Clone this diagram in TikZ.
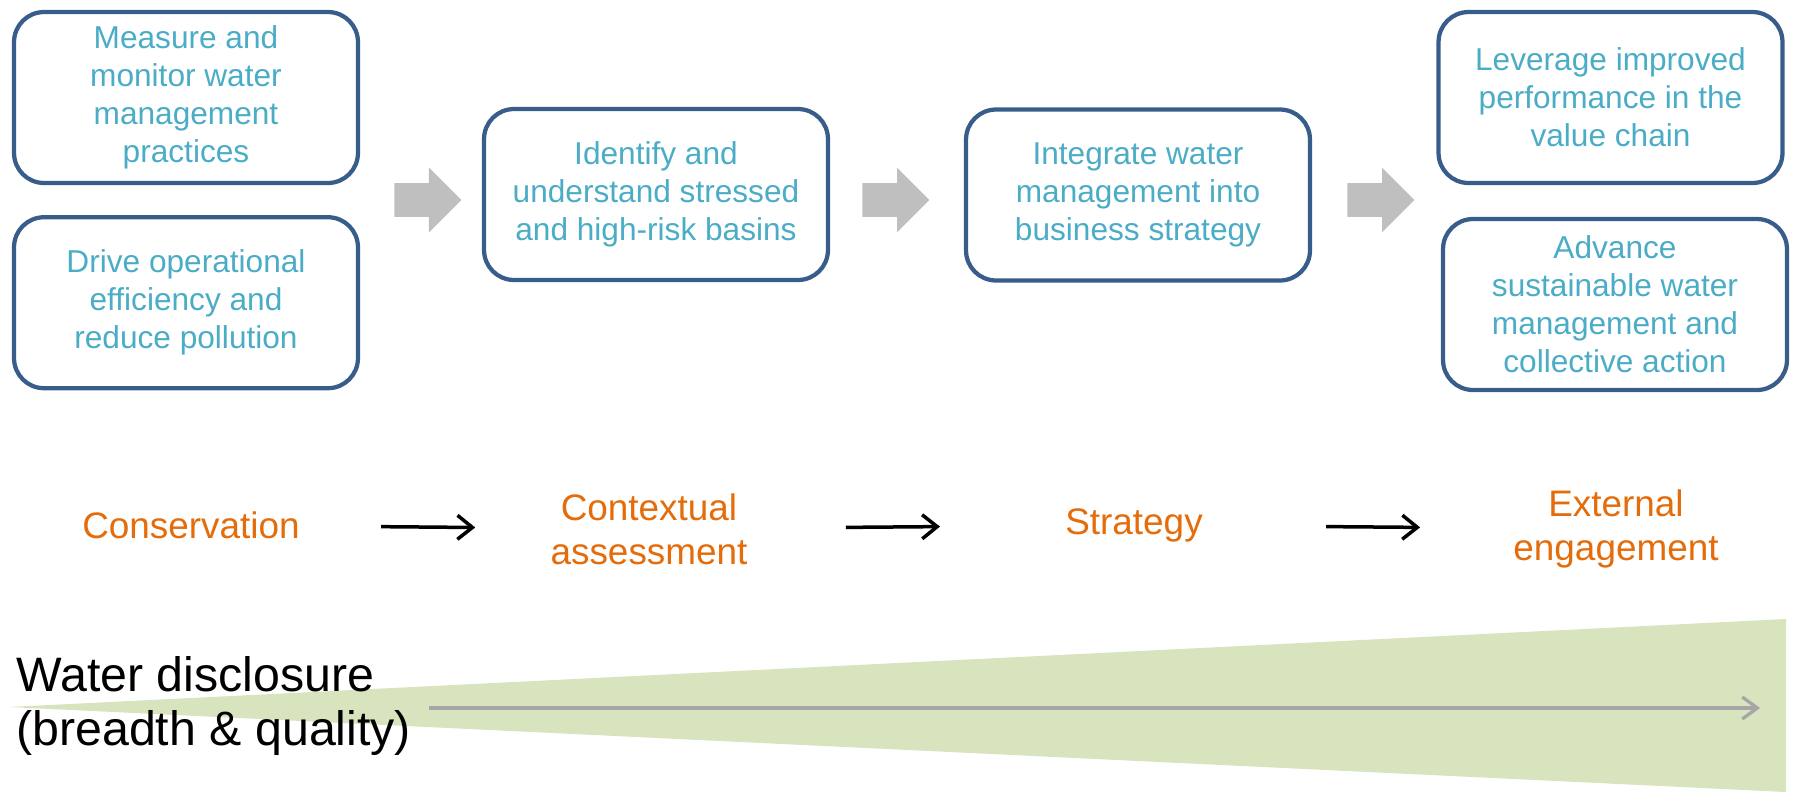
\documentclass[tikz,border=0pt]{standalone}
\usepackage{fontspec}
\setmainfont{Liberation Sans}
\usetikzlibrary{arrows.meta, positioning, shapes.arrows}

\definecolor{boxline}{HTML}{385D8A}
\definecolor{boxtext}{HTML}{4BACC6}
\definecolor{stagetext}{HTML}{E46C0A}
\definecolor{blockgray}{HTML}{BFBFBF}
\definecolor{wedge}{HTML}{D7E4BD}
\definecolor{discline}{HTML}{A6A6A6}

\begin{document}
\begin{tikzpicture}[
	x=0.02cm, y=-0.02cm,
	box/.style={draw=boxline, line width=0.085cm, rounded corners=0.6cm,
		minimum width=6.88cm, minimum height=3.42cm, inner sep=0pt,
		align=center, text=boxtext, font=\fontsize{18}{21.6}\selectfont},
	stage/.style={text=stagetext, align=center, inner sep=0pt,
		font=\fontsize{21}{25}\selectfont},
	blockarrow/.style={single arrow, fill=blockgray, draw=none, anchor=tail,
		inner xsep=0pt, inner ysep=0.33cm, minimum height=1.34cm,
		single arrow head extend=0.31cm},
	>={Straight Barb[length=0.3cm,width=0.48cm]}
]
\useasboundingbox (0,0) rectangle (1795,792);

% wedge behind the disclosure arrow
\fill[wedge] (9,707) -- (1786,619) -- (1786,792) -- cycle;

% steps
\node[box] (p0a) at (186,97.5) {Measure and\\monitor water\\management\\practices};
\node[box] (p0b) [below=0.6cm of p0a] {Drive operational\\efficiency and\\reduce pollution};
\node[box] (p1) at (656,194.5) {Identify and\\understand stressed\\and high-risk basins};
\node[box] (p2) at (1138,195) {Integrate water\\management into\\business strategy};
\node[box] (p3a) at (1610.5,97.5) {Leverage improved\\performance in the\\value chain};
\node[box] (p3b) at (1615,304.5) {Advance\\sustainable water\\management and\\collective action};

\node[blockarrow] (b1) at (394,200) {};
\node[blockarrow] (b2) at (862,200) {};
\node[blockarrow] (b3) at (1347,200) {};

% stages
\node[stage] (s0) at (191,525) {Conservation};
\node[stage] (s1) at (649,529) {Contextual\\assessment};
\node[stage] (s2) at (1134,525) {Strategy};
\node[stage] (s3) at (1616,529) {External\\engagement};

\path[->, line width=0.07cm, black]
	(s0) edge [shorten <=1.62cm, shorten >=1.5cm] (s1)
	(s1) edge [shorten <=1.96cm, shorten >=2.5cm] (s2)
	(s2) edge [shorten <=2.46cm, shorten >=1.86cm] (s3);

% disclosure
\node (wd) [anchor=west, align=left, inner sep=0pt,
	font=\fontsize{27.5}{31}\selectfont] at (16,706) {Water disclosure\\(breadth \& quality)};
\coordinate (g0) at (429,708);
\coordinate (g1) at (1760,708);
\draw[->, discline, line width=0.065cm, >={Straight Barb[length=0.3cm,width=0.44cm]}] (g0) -- (g1);
\end{tikzpicture}
\end{document}
